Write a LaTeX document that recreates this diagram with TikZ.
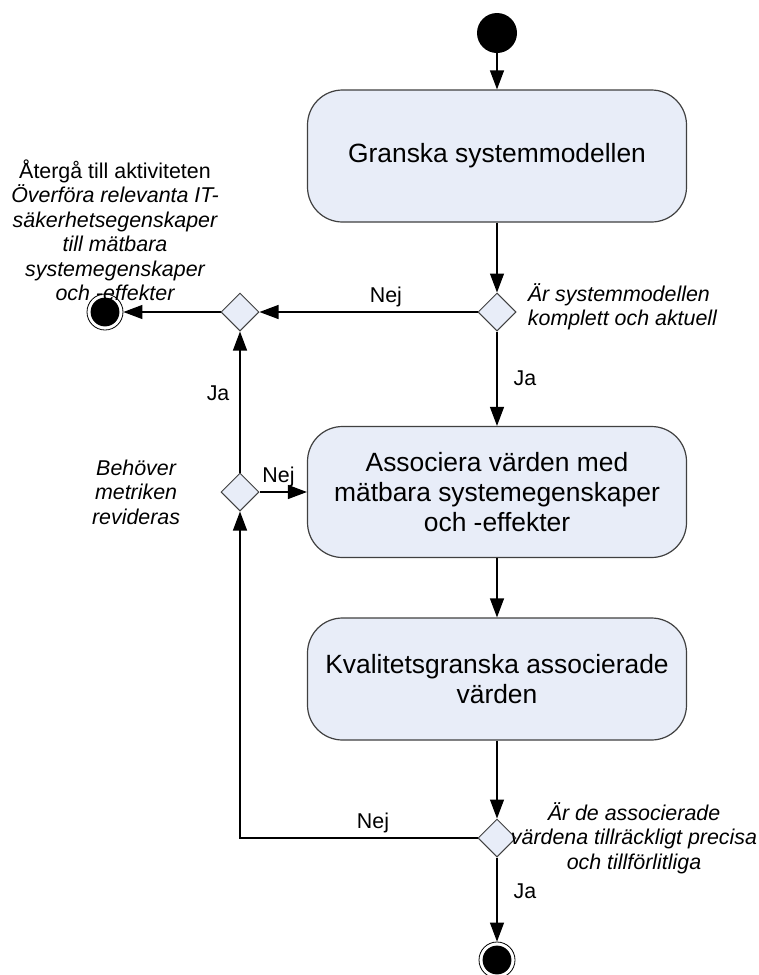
\documentclass[tikz,border=0pt]{standalone}
\usepackage{fontspec}
\setmainfont{Liberation Sans}
\usetikzlibrary{positioning,arrows.meta,shapes.geometric}
\definecolor{boxfill}{RGB}{232,237,248}
\definecolor{boxline}{RGB}{64,64,64}
\begin{document}
\begin{tikzpicture}[x=0.5pt, y=-0.5pt,
  activity/.style={draw=boxline, fill=boxfill, rounded corners=17.5pt, minimum width=189.5pt,
    align=center, line width=0.6pt, font=\fontsize{13.2}{15}\selectfont},
  decision/.style={diamond, draw=boxline, fill=boxfill, inner sep=0pt, minimum size=19pt, line width=0.5pt},
  startnode/.style={circle, fill=black, inner sep=0pt, minimum size=20pt},
  stopnode/.style={circle, draw=black, fill=white, inner sep=0pt, minimum size=18pt, line width=0.4pt,
    path picture={\fill[black] (path picture bounding box.center) circle (7.2pt);}},
  flow/.style={-{Triangle[length=9.5pt,width=7pt]}, line width=0.6pt},
  guard/.style={font=\fontsize{10.7}{12.25}\selectfont, inner sep=2pt},
  note/.style={font=\fontsize{10.7}{12.25}\selectfont\itshape, align=center, inner sep=0pt}]
\useasboundingbox (0,0) rectangle (759,975);

% activities
\node[startnode] (start) at (497,33) {};
\node[activity, minimum height=66pt] (granska) at (497,156) {Granska systemmodellen};
\node[decision] (d1) at (497,312) {};
\node[decision] (d2) at (240,312) {};
\node[stopnode] (stopA) at (105,312) {};
\node[activity, minimum height=65.5pt] (assoc) at (497,492) {Associera värden med\\mätbara systemegenskaper\\och -effekter};
\node[decision] (d3) at (240,492) {};
\node[activity, minimum height=61pt] (kval) at (497,679) {Kvalitetsgranska associerade\\värden};
\node[decision] (d4) at (497,838) {};
\node[stopnode] (stopB) at (497,960) {};

% notes
\node[note, right=5.5pt of d1, yshift=2.5pt, align=left] (d1note) {Är systemmodellen\\komplett och aktuell};
\node[note, above=-4pt of stopA, xshift=5pt] (stopAnote) {\upshape Återgå till aktiviteten\\Överföra relevanta IT-\\säkerhetsegenskaper\\till mätbara\\systemegenskaper\\och -effekter};
\node[note, left=20pt of d3] (d3note) {Behöver\\metriken\\revideras};
\node[note, right=-3pt of d4] (d4note) {Är de associerade\\värdena tillräckligt precisa\\och tillförlitliga};

% flows
\draw[flow] (start) -- (granska);
\draw[flow] (granska) -- (d1);
\draw[flow] (d1) -- node[guard, pos=0.42, above] {Nej} (d2);
\draw[flow] (d2) -- (stopA);
\draw[flow] (d1) -- node[guard, right=6pt] {Ja} (assoc);
\draw[flow] (d3) -- node[guard, pos=0.56, left=3pt] {Ja} (d2);
\draw[flow] (d3) -- node[guard, pos=0.4, above] {Nej} (assoc);
\draw[flow] (assoc) -- (kval);
\draw[flow] (kval) -- (d4);
\draw[flow] (d4) -| node[guard, pos=0.22, above] {Nej} (d3);
\draw[flow] (d4) -- node[guard, pos=0.4, right=6pt] {Ja} (stopB);
\end{tikzpicture}
\end{document}
